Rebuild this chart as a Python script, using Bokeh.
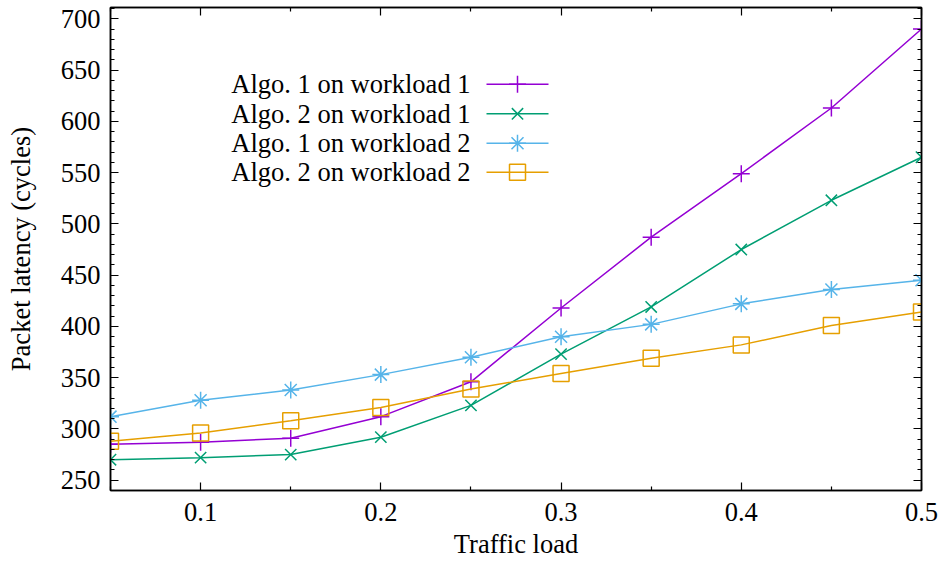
from bokeh.plotting import figure
from bokeh.models import FixedTicker, LinearAxis, Range1d, CustomLabelingPolicy
from bokeh.core.properties import value
from bokeh.embed import file_html
from bokeh.resources import INLINE

# ---- data ----
traffic_load = [0.05, 0.10, 0.15, 0.20, 0.25, 0.30, 0.35, 0.40, 0.45, 0.50]
algo1_wl1 = [285, 287, 291, 312, 346, 418, 487, 549, 613, 690]
algo2_wl1 = [270, 272, 275, 292, 323, 373, 419, 475, 523, 565]
algo1_wl2 = [312, 328, 338, 353, 370, 390, 402, 422, 436, 445]
algo2_wl2 = [288, 296, 308, 321, 339, 354, 369, 382, 401, 414]

series_names = ["Algo. 1 on workload 1", "Algo. 2 on workload 1",
                "Algo. 1 on workload 2", "Algo. 2 on workload 2"]
x_ticks = [0.1, 0.2, 0.3, 0.4, 0.5]
x_minor_ticks = [0.05, 0.15, 0.25, 0.35, 0.45]
y_ticks = [250, 300, 350, 400, 450, 500, 550, 600, 650, 700]
y_minor_ticks = list(range(240, 711, 10))

# ---- styling ----
FONT = "Liberation Serif"
FS = "26.5px"
colors = ["#9400d3", "#009e73", "#56b4e9", "#e69f00"]
markers = ["cross", "x", "asterisk", "square"]
marker_sizes = [17, 16, 17, 16]

XMIN, XMAX = 0.05, 0.5
YMIN, YMAX = 240, 711

# frame position (pixels in the page)
FL, FR, FT, FB = 110, 921, 7, 491
W, H = 943, 561

p = figure(width=W, height=H, output_backend="svg", toolbar_location=None,
           x_range=Range1d(XMIN, XMAX), y_range=Range1d(YMIN, YMAX),
           min_border_left=FL, min_border_right=W - FR, min_border_top=FT,
           min_border_bottom=H - FB)
p.background_fill_color = "white"
p.border_fill_color = "white"
p.xgrid.visible = False
p.ygrid.visible = False
p.outline_line_color = "black"
p.outline_line_width = 1.5

no_labels = CustomLabelingPolicy(code="""
    for (const i of indices) { indices.unset(i) }
    return indices
""")

def style_axis(ax, labels=True):
    ax.axis_line_color = "black"
    ax.axis_line_width = 1.5
    ax.major_tick_in = 8
    ax.major_tick_out = 0
    ax.minor_tick_in = 4
    ax.minor_tick_out = 0
    ax.major_tick_line_color = "black"
    ax.minor_tick_line_color = "black"
    ax.major_tick_line_width = 1.2
    ax.minor_tick_line_width = 1.2
    ax.major_label_text_font = FONT
    ax.major_label_text_font_size = FS if labels else "1px"
    ax.major_label_text_color = "black"
    ax.axis_label_text_font = FONT
    ax.axis_label_text_font_size = FS
    ax.axis_label_text_font_style = "normal"
    ax.axis_label_text_color = "black"
    if not labels:
        ax.major_label_policy = no_labels
        ax.major_label_standoff = 0
        ax.axis_label_standoff = 0

xt = FixedTicker(ticks=x_ticks, minor_ticks=x_minor_ticks)
yt = FixedTicker(ticks=y_ticks, minor_ticks=y_minor_ticks)

p.xaxis.ticker = xt
p.yaxis.ticker = yt
style_axis(p.xaxis[0])
style_axis(p.yaxis[0])
p.xaxis.axis_label = "Traffic load"
p.yaxis.axis_label = "Packet latency (cycles)"
p.xaxis.major_label_standoff = 12
p.xaxis.axis_label_standoff = 5
p.yaxis.major_label_standoff = 10
p.yaxis.axis_label_standoff = 22

top_ax = LinearAxis(ticker=xt)
right_ax = LinearAxis(ticker=yt)
style_axis(top_ax, labels=False)
style_axis(right_ax, labels=False)
p.add_layout(top_ax, "above")
p.add_layout(right_ax, "right")

all_series = [algo1_wl1, algo2_wl1, algo1_wl2, algo2_wl2]
for ys, c, m, s in zip(all_series, colors, markers, marker_sizes):
    p.line(traffic_load, ys, line_color=c, line_width=1.5)
    p.scatter(traffic_load, ys, marker=m, size=s, line_color=c,
              fill_color=None, line_width=1.5)

# ---- legend (gnuplot style: text, then sample) ----
def sx(px):
    return XMIN + (px - FL) / (FR - FL) * (XMAX - XMIN)

def sy(py):
    return YMAX - (py - FT) / (FB - FT) * (YMAX - YMIN)

rows = [84, 113.5, 143, 172]
for name, c, m, s, r in zip(series_names, colors, markers, marker_sizes, rows):
    p.text(x=[sx(470)], y=[sy(r)], text=[name], text_align="right",
           text_baseline="middle", text_font=value(FONT), text_font_size=FS,
           text_color="black")
    p.line([sx(486), sx(548)], [sy(r), sy(r)], line_color=c, line_width=1.5)
    p.scatter([sx(517)], [sy(r)], marker=m, size=s, line_color=c,
              fill_color=None, line_width=1.5)

open("out.html", "w").write(file_html(p, INLINE))
